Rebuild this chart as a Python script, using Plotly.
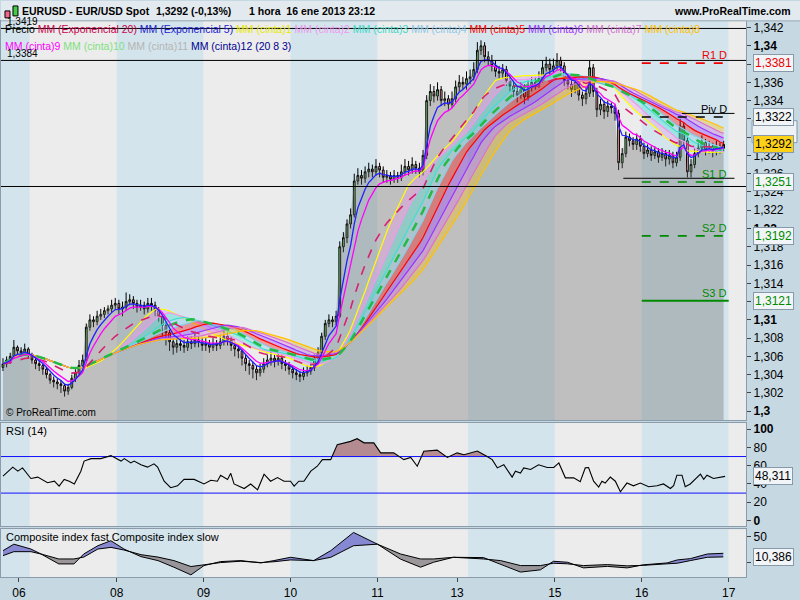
import plotly.graph_objects as go
import pandas as pd

W, H = 800, 600
def PX(px): return px / W
def PY(py): return 1 - py / H

FONT = "Liberation Sans, Arial, sans-serif"
BASE = 1.3

# ---------------- data (price in pips above 1.3000) ----------------
close_pips = [52,56,60,70,66,64,68,62,56,52, 50,46,40,34,32,30,28,22,26,36,
              42,50,56,92,100,98,104,106,110,112, 116,118,112,114,120,122,118,114,116,112,
              118,116,110,104,94,86,76,70,74,72, 70,76,74,78,76,72,74,70,74,72,
              76,82,78,72,68,66,58,52,50,46, 42,46,52,56,58,55,58,52,50,46,
              42,40,38,42,44,48,58,64,82,96, 100,98,104,180,190,205,215,252,258,255,
              262,265,262,268,264,256,258,254,258,256, 262,268,264,270,266,262,280,340,350,345,
              352,340,342,336,342,355,360,358,364,366, 374,395,400,388,384,378,372,370,374,362,
              356,350,346,352,344,356,360,358,364,376, 380,374,378,384,378,362,358,352,360,346,
              342,348,376,350,330,336,328,334,332,326, 272,282,300,296,292,298,290,282,286,280,
              284,278,282,276,280,272,278,312,296,262, 270,282,288,294,286,290,284,290,288,292]
high_pips = [58,60,64,78,72,70,74,70,64,60, 56,52,48,42,38,36,34,30,30,40,
             46,56,62,96,106,104,110,112,114,116, 122,124,122,120,130,128,126,122,122,120,
             124,124,120,114,108,98,90,80,80,80, 78,82,82,86,82,80,80,78,80,78,
             84,90,86,82,76,72,68,62,56,54, 50,52,58,62,66,62,64,62,56,54,
             50,46,44,48,50,54,62,70,86,100, 106,104,110,186,196,210,222,260,266,264,
             268,272,270,276,272,268,264,262,264,262, 270,276,274,278,274,272,286,346,358,356,
             360,356,350,346,350,362,368,366,372,374, 382,404,406,404,394,390,384,378,380,378,
             368,362,356,360,358,362,366,366,372,384, 388,386,386,392,388,382,368,362,366,364,
             350,354,384,380,354,342,340,340,338,336, 330,288,306,304,300,304,302,294,292,290,
             290,288,288,286,286,284,284,320,316,300, 276,288,294,302,298,296,294,296,294,296]
low_pips = [44,48,52,58,60,60,62,58,52,46, 44,40,36,30,26,24,20,16,18,24,
            32,40,48,54,88,92,94,100,102,106, 108,112,106,104,110,116,112,108,110,106,
            108,110,104,98,82,72,66,62,64,66, 64,66,68,70,70,66,66,64,66,66,
            68,72,72,66,60,58,50,44,40,36, 34,38,42,48,50,48,50,46,44,40,
            36,34,32,34,38,40,44,54,60,78, 92,92,94,102,174,184,200,212,248,248,
            250,256,256,258,256,250,250,248,250,250, 252,258,258,260,260,256,258,276,334,338,
            340,334,334,330,332,338,350,352,352,358, 362,370,390,382,378,372,366,364,364,356,
            350,344,338,342,336,340,350,352,354,360, 372,368,370,374,372,356,352,344,348,340,
            334,336,344,344,322,324,320,322,326,318, 264,266,278,290,286,286,284,276,278,274,
            276,272,274,268,270,266,268,274,290,256, 256,266,278,284,280,282,278,280,282,284]
first_open_pips = 48

# RSI (14) (bar position, value)
rsi_pos = [0,2.7,4.1,5.4,7.7,9.6,12.3,14.2,15.5,16.9,18.3,19.7,21.5,22.4,24.3,27,29.8,31.6,32.6,33.5,
           35.3,36.2,38.1,39.9,41.7,42.7,44.5,46.3,48.2,50,52.8,55.5,57.4,59.2,60.1,62,62.9,63.8,66.6,68.4,
           70.3,72.1,73.9,75.8,77.6,79.4,80.4,81.7,83.1,85,86.8,88.2,90.5,92.3,96,97.8,99.7,102.4,104.3,107.9,
           109.8,110.7,112.6,114.4,116.2,119.9,122.7,125.4,127.3,131,133.7,135.1,136.5,138.3,140.6,141.5,142.9,143.8,145.7,147.9,
           150.3,152.1,153.5,155.3,157.6,159.4,160.8,161.7,163.1,164.5,165.4,166.3,167.7,169.1,170.5,172.3,174.1,176,178.3,180.6,
           182.4,184.3,185.2,186.1,187.5,188.4,189.8,191.2,192.6,193.5,194.4,196.2,198.1,199.4]
rsi_val = [48.6,58.4,54,57.6,46,47.5,41.3,43,37.7,45,43,40,54,65,67.7,67.7,71,67.7,65,67.7,
           63,65,61,58.4,62,58.4,43,35.9,38,45,45,40,44,43,49.6,45,51.6,40,35,40,
           33.6,50.7,43,47,43,43,37.7,43,43,54,59.4,66.6,66.6,83,86.6,89.5,85,85,74,74,
           69,66.6,69,59.4,75.7,77,69,74,72,76,70,66.6,57.6,61,47.5,54,52,57.6,55.8,61,
           58,58,63,46.7,46.7,42.4,57.6,58,43,36.6,43,41,47.5,43,31.5,41,38,41,37,38,
           40,35,38,49.6,49.6,37,40,45,50.7,45,49.6,46,47,48.311]
rsi_levels = [70, 30]

# Composite index fast / slow
comp_pos = [0,3.0,7.7,10.5,15.4,19.6,22.3,26.2,29.8,33.4,38.1,42.8,47.2,51.9,55.5,60.1,65.7,71.2,74.8,79.4,
            85.8,90.5,96.8,103.4,109.8,115.3,118.9,124.4,132.7,137.4,142.9,148.4,152,155.9,160.3,166.9,172.4,176.8,183.4,186.2,
            189.8,194.5,198.9]
comp_fast = [22.4,35,25.6,16,-3.2,-3.2,16,32,41.7,25.6,10.9,3.2,-9.6,-24.4,-6.4,1.3,3.2,-1.3,3.2,9.6,
             3.2,22.4,57.7,35,6,-9.6,0,9.6,9,-3.2,-19,-14.7,1.9,0,-10.9,-8,-10.9,-5,-1.3,4.5,
             7,16,17.3]
comp_slow = [12.8,20.5,20.5,16,6.4,6.4,10,25.6,28.8,23.7,14.7,10,3.2,-8.3,-5,-0.6,2,-0.6,1,4.5,
             3.2,9.6,32,35,16,6.4,6.4,9.6,6.4,3.2,-6.4,-6.4,-1.9,-3,-6.4,-4.5,-7,-6,-3,-1.9,
             3.2,9.6,10.386]

day_labels = ['06','08','09','10','11','13','15','16','17']
day_label_bar = [4.4,31.4,55.4,79.4,103.4,125.4,152.4,176.4,200.4]
session_bounds = [-0.55,7.4,31.4,55.4,79.4,103.4,128.4,152.4,176.4,200.4,205.2]

pivot_names = ['R1 D','Piv D','S1 D','S2 D','S3 D']
pivot_levels = [1.3381,1.3322,1.3251,1.3192,1.3121]
pivot_colors = ['#ee0000','#000000','#008a00','#008a00','#008a00']
pivot_dash = ['dash','dash','dash','dash','solid']
hlines = [1.3419, 1.3384, 1.3246]
prev_levels = [1.3326, 1.3255]
prev_start = [187.5, 171.3]
last_price = 1.3292

ribbon_periods = [20,24,28,32,36,40,44,48]
ribbon_colors = ['#ffff00','#ee99ee','#40e0d0','#87ceeb','#ff0000','#9933ff','#da70d6','#ffc000']

assert len(close_pips) == len(high_pips) == len(low_pips)
assert len(rsi_pos) == len(rsi_val) and len(comp_pos) == len(comp_fast) == len(comp_slow)

# ---------------- derived ----------------
n = len(close_pips)
bars = list(range(n))
close = [BASE + p / 1e4 for p in close_pips]
high = [BASE + p / 1e4 for p in high_pips]
low = [BASE + p / 1e4 for p in low_pips]
opens = [BASE + first_open_pips / 1e4] + close[:-1]
s = pd.Series(close)

def rgba(hexc, a):
    h = hexc.lstrip('#')
    return f"rgba({int(h[0:2],16)},{int(h[2:4],16)},{int(h[4:6],16)},{a})"

def split_fill(xs, a, b):
    X, A, B = [], [], []
    for k in range(len(xs)):
        if k > 0:
            d0 = a[k-1] - b[k-1]
            d1 = a[k] - b[k]
            if d0 * d1 < 0:
                t = d0 / (d0 - d1)
                xc = xs[k-1] + t * (xs[k] - xs[k-1])
                yc = b[k-1] + t * (b[k] - b[k-1])
                X.append(xc); A.append(yc); B.append(yc)
        X.append(xs[k]); A.append(a[k]); B.append(b[k])
    return X, A, B

fig = go.Figure()
NOH = dict(hoverinfo='skip', showlegend=False)

# price area
fig.add_trace(go.Scatter(x=bars, y=close, mode='lines', line=dict(width=0), fill='tozeroy',
                         fillcolor='rgba(105,105,105,0.34)', xaxis='x', yaxis='y', **NOH))
# ribbon
for k, (per, col) in enumerate(zip(ribbon_periods, ribbon_colors)):
    ma = s.rolling(per, min_periods=1).mean()
    fig.add_trace(go.Scatter(x=bars, y=ma, mode='lines', line=dict(color=col, width=1.2),
                             fill=None if k == 0 else 'tonexty', fillcolor=rgba(col, 0.35),
                             xaxis='x', yaxis='y', **NOH))
# dashed averages
fig.add_trace(go.Scatter(x=bars, y=s.rolling(30, min_periods=1).mean(), mode='lines',
                         line=dict(color='#22bb44', width=2.5, dash='dash'), xaxis='x', yaxis='y', **NOH))
fig.add_trace(go.Scatter(x=bars, y=s.ewm(span=20, adjust=False).mean(), mode='lines',
                         line=dict(color='#d8206e', width=1.6, dash='dash'), xaxis='x', yaxis='y', **NOH))
# candles
fig.add_trace(go.Candlestick(x=bars, open=opens, high=high, low=low, close=close,
                             increasing=dict(line=dict(color='#000000', width=1), fillcolor='#66dd66'),
                             decreasing=dict(line=dict(color='#000000', width=1), fillcolor='#f4a0a8'),
                             whiskerwidth=0, xaxis='x', yaxis='y', hoverinfo='skip', showlegend=False))
# fast averages
fig.add_trace(go.Scatter(x=bars, y=s.ewm(span=8, adjust=False).mean(), mode='lines',
                         line=dict(color='#ff00ff', width=1.3), xaxis='x', yaxis='y', **NOH))
fig.add_trace(go.Scatter(x=bars, y=s.ewm(span=5, adjust=False).mean(), mode='lines',
                         line=dict(color='#2222ff', width=1.3), xaxis='x', yaxis='y', **NOH))

# RSI
X, A, B = split_fill(rsi_pos, rsi_val, [rsi_levels[0]] * len(rsi_pos))
fig.add_trace(go.Scatter(x=X, y=B, mode='lines', line=dict(width=0), xaxis='x2', yaxis='y2', **NOH))
fig.add_trace(go.Scatter(x=X, y=[max(a, b) for a, b in zip(A, B)], mode='lines', line=dict(width=0),
                         fill='tonexty', fillcolor='rgba(170,110,115,0.75)', xaxis='x2', yaxis='y2', **NOH))
for lv in rsi_levels:
    fig.add_trace(go.Scatter(x=[session_bounds[0], session_bounds[-1]], y=[lv, lv], mode='lines',
                             line=dict(color='#1010ff', width=1), xaxis='x2', yaxis='y2', **NOH))
fig.add_trace(go.Scatter(x=rsi_pos, y=rsi_val, mode='lines', line=dict(color='#000000', width=1.1),
                         xaxis='x2', yaxis='y2', **NOH))

# Composite
X, A, B = split_fill(comp_pos, comp_fast, comp_slow)
fig.add_trace(go.Scatter(x=X, y=B, mode='lines', line=dict(width=0), xaxis='x3', yaxis='y3', **NOH))
fig.add_trace(go.Scatter(x=X, y=[max(a, b) for a, b in zip(A, B)], mode='lines', line=dict(width=0),
                         fill='tonexty', fillcolor='rgba(120,120,205,0.85)', xaxis='x3', yaxis='y3', **NOH))
fig.add_trace(go.Scatter(x=X, y=B, mode='lines', line=dict(width=0), xaxis='x3', yaxis='y3', **NOH))
fig.add_trace(go.Scatter(x=X, y=[min(a, b) for a, b in zip(A, B)], mode='lines', line=dict(width=0),
                         fill='tonexty', fillcolor='rgba(140,135,140,0.85)', xaxis='x3', yaxis='y3', **NOH))
fig.add_trace(go.Scatter(x=comp_pos, y=comp_fast, mode='lines', line=dict(color='#000000', width=1),
                         xaxis='x3', yaxis='y3', **NOH))
fig.add_trace(go.Scatter(x=comp_pos, y=comp_slow, mode='lines', line=dict(color='#000000', width=1),
                         xaxis='x3', yaxis='y3', **NOH))

# ---------------- shapes ----------------
shapes = []
band_cols = ['#d3e4ec', '#ececec']
for yr in ['y domain', 'y2 domain', 'y3 domain']:
    for k in range(len(session_bounds) - 1):
        shapes.append(dict(type='rect', xref='x', yref=yr, x0=session_bounds[k], x1=session_bounds[k+1],
                           y0=0, y1=1, fillcolor=band_cols[k % 2], line=dict(width=0), layer='below'))
# header
shapes.append(dict(type='rect', xref='paper', yref='paper', x0=0, x1=1, y0=PY(20), y1=1,
                   fillcolor='#e3eaef', line=dict(width=0)))
shapes.append(dict(type='line', xref='paper', yref='paper', x0=0, x1=1, y0=PY(20), y1=PY(20),
                   line=dict(color='#9aabb8', width=1)))
# header icon
shapes.append(dict(type='rect', xref='paper', yref='paper', x0=PX(4), x1=PX(9), y0=PY(17), y1=PY(10),
                   fillcolor='#ee6688', line=dict(color='#000', width=1)))
shapes.append(dict(type='rect', xref='paper', yref='paper', x0=PX(12), x1=PX(17), y0=PY(15), y1=PY(5),
                   fillcolor='#44cc44', line=dict(color='#000', width=1)))
# horizontal reference lines
for lv in hlines:
    shapes.append(dict(type='line', xref='x', yref='y', x0=session_bounds[0], x1=session_bounds[-1],
                       y0=lv, y1=lv, line=dict(color='#000000', width=1)))
for lv, x0 in zip(prev_levels, prev_start):
    shapes.append(dict(type='line', xref='x', yref='y', x0=x0, x1=202, y0=lv, y1=lv,
                       line=dict(color='#000000', width=1)))
for lv, col, dsh in zip(pivot_levels, pivot_colors, pivot_dash):
    shapes.append(dict(type='line', xref='x', yref='y', x0=176.4, x1=200.4, y0=lv, y1=lv,
                       line=dict(color=col, width=2 if dsh == 'solid' else 1.6, dash=dsh)))
# stacked label boxes on the price axis
shapes.append(dict(type='rect', xref='paper', yref='y', x0=PX(752), x1=PX(797), y0=1.3294, y1=1.3318,
                   fillcolor='#eef2f5', line=dict(color='#8899aa', width=1)))

# ---------------- annotations ----------------
ann = []
def A(text, x, y, xref='paper', yref='paper', xanchor='left', yanchor='middle', size=11, color='#000',
      bg=None, border=None):
    d = dict(text=text, x=x, y=y, xref=xref, yref=yref, xanchor=xanchor, yanchor=yanchor,
             showarrow=False, font=dict(family=FONT, size=size, color=color))
    if bg:
        d.update(bgcolor=bg, bordercolor=border or '#8899aa', borderwidth=1, borderpad=1)
    ann.append(d)

A('<b>EURUSD - EUR/USD Spot</b>', PX(19), PY(10), size=10.5)
A('<b>1,3292 (-0,13%)</b>', PX(153), PY(10), size=10.5)
A('<b>1 hora\u00a0\u00a016 ene 2013 23:12</b>', PX(246), PY(10), size=10.5)
A('<b>www.ProRealTime.com</b>', PX(793), PY(10), xanchor='right', size=10.5)

A('1,3419', PX(4), PY(21), size=10)
leg1 = [('Precio', '#000000'), ('MM (Exponencial 20)', '#c8004a'), ('MM (Exponencial 5)', '#2020d0'),
        ('MM (cinta)1', '#e8e800'), ('MM (cinta)2', '#ee99ee'), ('MM (cinta)3', '#40d8c8'),
        ('MM (cinta)4', '#8cc8e8'), ('MM (cinta)5', '#ff0000'), ('MM (cinta)6', '#9933ff'),
        ('MM (cinta)7', '#d070d0'), ('MM (cinta)8', '#ffc000')]
leg2 = [('MM (cinta)9', '#ff00ff'), ('MM (cinta)10', '#80e080'), ('MM (cinta)11', '#b4b4b4'),
        ('MM (cinta)12 (20 8 3)', '#000090')]
A(' '.join(f'<span style="color:{c}">{t}</span>' for t, c in leg1), PX(2), PY(28), size=10.5)
A(' '.join(f'<span style="color:{c}">{t}</span>' for t, c in leg2), PX(2), PY(45), size=10.5)
A('1,3384', PX(4), PY(53), size=10)
A('© ProRealTime.com', PX(3), PY(414), size=10)

for name, lv, col in zip(pivot_names, pivot_levels, pivot_colors):
    A(name, 200.4, lv, xref='x', yref='y', xanchor='right', yanchor='bottom', size=11, color=col)
for lv, col in zip(pivot_levels, pivot_colors):
    A(f'{lv:.4f}'.replace('.', ','), PX(753), lv, yref='y', size=12, color=col, bg='#f2f5f7')
A(f'{last_price:.4f}'.replace('.', ','), PX(753), last_price, yref='y', size=12, color='#000', bg='#ffd21a')

A('RSI (14)', PX(3), PY(433), size=11)
A(f'{rsi_val[-1]:.3f}'.replace('.', ','), PX(753), rsi_val[-1], yref='y2', size=12, bg='#f2f5f7')
A('Composite index fast Composite index slow', PX(3), PY(540), size=11)
A(f'{comp_slow[-1]:.3f}'.replace('.', ','), PX(753), comp_slow[-1], yref='y3', size=12, bg='#f2f5f7')

# ---------------- axes ----------------
xr = [session_bounds[0], session_bounds[-1]]
xdom = [0, PX(746)]
axcommon = dict(showgrid=False, zeroline=False, showline=True, mirror=True, linecolor='#8a9bab',
                linewidth=1, fixedrange=True)

price_ticks = [round(1.300 + 0.002 * k, 3) for k in range(22)]
price_text = []
for v in price_ticks:
    t = f'{v:.3f}'.rstrip('0').replace('.', ',')
    if abs(round(v * 100) - v * 100) < 1e-6:
        t = f'<b>{t}</b>'
    price_text.append(t)

tickf = dict(family=FONT, size=12, color='#000')
fig.update_layout(
    width=W, height=H, margin=dict(l=0, r=0, t=0, b=0),
    paper_bgcolor='#c6d8e2', plot_bgcolor='#ececec',
    showlegend=False, shapes=shapes, annotations=ann,
    xaxis=dict(domain=xdom, range=xr, anchor='y', showticklabels=False, ticks='',
               rangeslider=dict(visible=False), **axcommon),
    xaxis2=dict(domain=xdom, range=xr, anchor='y2', matches='x', showticklabels=False, ticks='', **axcommon),
    xaxis3=dict(domain=xdom, range=xr, anchor='y3', matches='x', tickvals=day_label_bar, ticktext=day_labels,
                ticks='outside', ticklen=4, tickcolor='#444', tickfont=tickf, **axcommon),
    yaxis=dict(domain=[PY(422), PY(20)], range=[1.29902, 1.34273], anchor='x', side='right',
               tickvals=price_ticks, ticktext=price_text, ticks='outside', ticklen=4, tickcolor='#444',
               tickfont=tickf, **axcommon),
    yaxis2=dict(domain=[PY(529), PY(425)], range=[-6.5, 106.5], anchor='x2', side='right',
                tickvals=[0, 20, 40, 60, 80, 100], ticktext=['<b>0</b>', '20', '40', '60', '80', '<b>100</b>'],
                ticks='outside', ticklen=4, tickcolor='#444', tickfont=tickf, **axcommon),
    yaxis3=dict(domain=[PY(580), PY(532)], range=[-28.8, 63.5], anchor='x3', side='right',
                tickvals=[0, 50], ticktext=['0', '50'], ticks='outside', ticklen=4, tickcolor='#444',
                tickfont=tickf, **axcommon),
)

fig.write_html("out.html", config={'displayModeBar': False},
               post_script="document.body.style.margin='0px';document.body.style.overflow='hidden';")
